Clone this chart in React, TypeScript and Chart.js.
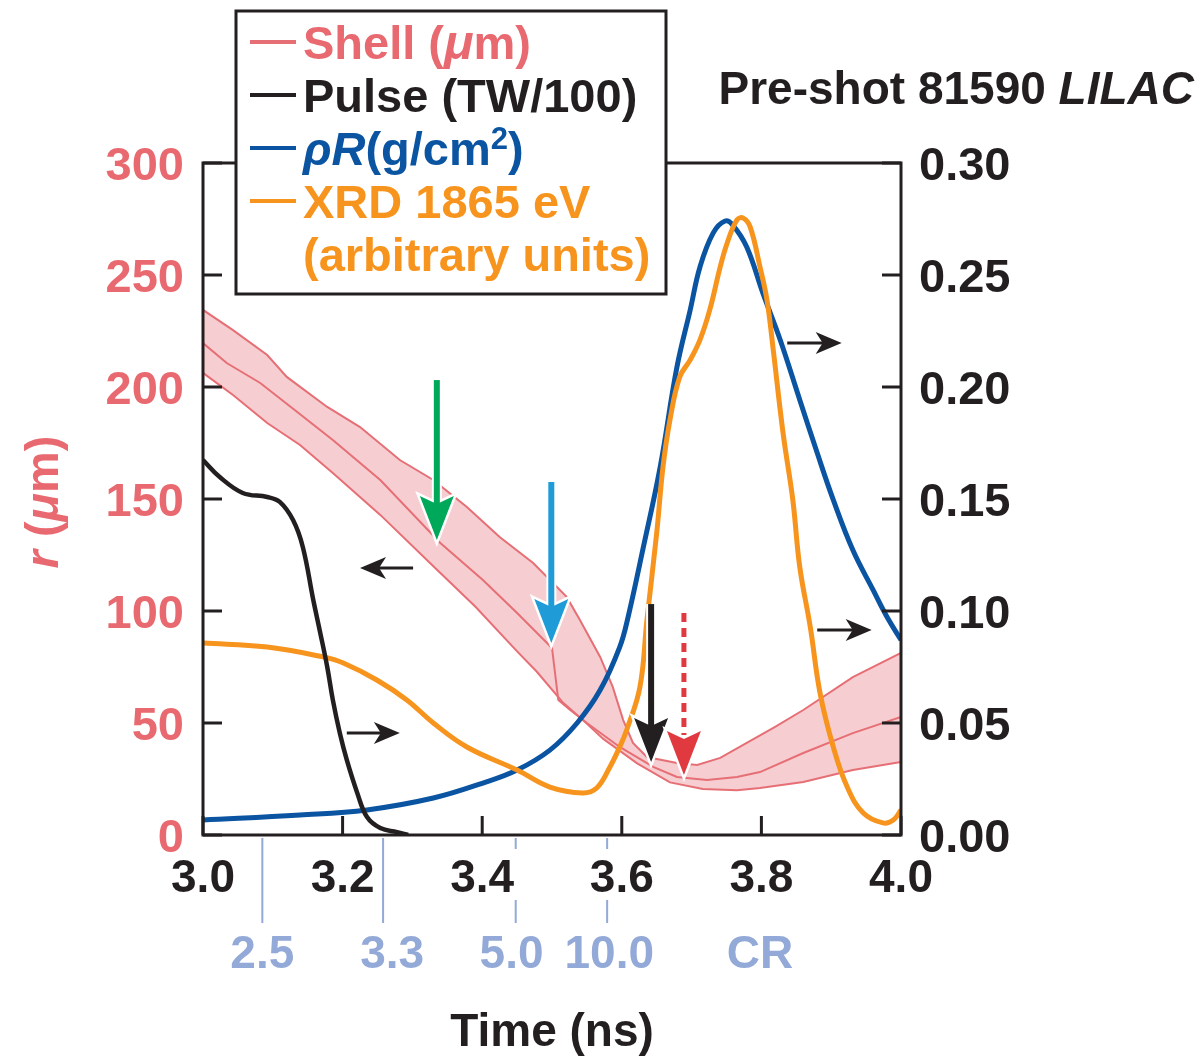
import { useEffect, useRef } from 'react';
import { Chart, registerables } from 'chart.js';
Chart.register(...registerables);

// ---------- data ----------
const shellUpperT = [3.0, 3.043, 3.092, 3.12, 3.178, 3.225, 3.282, 3.33, 3.378, 3.425, 3.473, 3.521, 3.54, 3.569, 3.587, 3.602, 3.616, 3.636, 3.679, 3.708, 3.741, 3.779, 3.819, 3.86, 3.931, 4.0];
const shellUpperR = [234.4, 225.4, 214.3, 204.5, 191.1, 182.1, 167.4, 158.5, 146.4, 133.0, 121.4, 106.3, 96.0, 79.5, 66.1, 51.3, 41.1, 34.8, 32.1, 31.3, 34.4, 41.1, 48.2, 55.8, 70.5, 81.3];

const shellMidT = [3.0, 3.034, 3.082, 3.135, 3.186, 3.254, 3.34, 3.401, 3.45, 3.5, 3.509, 3.526, 3.55, 3.597, 3.645, 3.679, 3.722, 3.765, 3.798, 3.86, 3.931, 4.0];
const shellMidR = [219.6, 210.7, 201.8, 188.8, 176.3, 158.5, 130.4, 113.8, 99.1, 83.5, 60.3, 55.8, 50.0, 39.3, 30.4, 25.9, 24.6, 25.9, 28.1, 36.6, 45.5, 52.7];

const shellLowT = [3.0, 3.043, 3.092, 3.139, 3.186, 3.254, 3.33, 3.39, 3.45, 3.478, 3.516, 3.549, 3.573, 3.622, 3.669, 3.716, 3.765, 3.798, 3.86, 3.931, 4.0];
const shellLowR = [206.3, 196.4, 183.9, 174.1, 161.6, 142.9, 120.0, 102.0, 82.0, 73.0, 59.0, 50.0, 43.0, 32.0, 23.5, 20.5, 20.0, 21.0, 23.7, 29.0, 32.6];

const pulseT = [3.0, 3.024, 3.057, 3.092, 3.11, 3.129, 3.143, 3.158, 3.168, 3.178, 3.186, 3.196, 3.206, 3.221, 3.235, 3.254, 3.278, 3.294];
const pulseV = [0.1674, 0.1598, 0.1527, 0.1509, 0.1487, 0.1406, 0.1286, 0.1049, 0.0902, 0.075, 0.0603, 0.0455, 0.0335, 0.0188, 0.008, 0.0031, 0.0013, 0.0];

const rhoRT = [3.0, 3.139, 3.235, 3.33, 3.401, 3.45, 3.497, 3.536, 3.569, 3.597, 3.609, 3.63, 3.655, 3.679, 3.698, 3.712, 3.731, 3.748, 3.759, 3.779, 3.802, 3.827, 3.855, 3.88, 3.903, 3.931, 3.96, 3.98, 4.0];
const rhoRV = [0.0067, 0.0089, 0.0112, 0.0165, 0.0232, 0.029, 0.0379, 0.05, 0.0647, 0.0839, 0.0973, 0.1272, 0.1643, 0.2089, 0.2344, 0.2536, 0.2688, 0.2741, 0.2723, 0.2625, 0.242, 0.221, 0.1942, 0.1705, 0.1496, 0.1272, 0.1094, 0.0973, 0.0871];

const xrdT = [3.0, 3.092, 3.172, 3.201, 3.249, 3.292, 3.33, 3.378, 3.45, 3.497, 3.544, 3.564, 3.583, 3.597, 3.607, 3.626, 3.636, 3.65, 3.659, 3.669, 3.683, 3.698, 3.712, 3.726, 3.741, 3.751, 3.765, 3.774, 3.784, 3.798, 3.808, 3.817, 3.831, 3.845, 3.855, 3.87, 3.884, 3.903, 3.923, 3.946, 3.974, 3.989, 4.0];
const xrdV = [0.0857, 0.0839, 0.0795, 0.0768, 0.0692, 0.0603, 0.05, 0.0393, 0.029, 0.0214, 0.0188, 0.021, 0.0304, 0.0393, 0.0469, 0.0661, 0.096, 0.1348, 0.1643, 0.1853, 0.2045, 0.2121, 0.221, 0.2344, 0.2536, 0.2643, 0.2746, 0.2754, 0.2714, 0.2536, 0.2388, 0.2165, 0.1795, 0.1496, 0.1196, 0.0929, 0.0634, 0.0393, 0.0214, 0.0098, 0.0054, 0.0067, 0.0112];

const xTicks = [3.0, 3.2, 3.4, 3.6, 3.8, 4.0];
const xTickLabels = ['3.0', '3.2', '3.4', '3.6', '3.8', '4.0'];
const leftTicks = [0, 50, 100, 150, 200, 250, 300];
const leftTickLabels = ['0', '50', '100', '150', '200', '250', '300'];
const rightTicks = [0, 0.05, 0.1, 0.15, 0.2, 0.25, 0.3];
const rightTickLabels = ['0.00', '0.05', '0.10', '0.15', '0.20', '0.25', '0.30'];

// secondary time markers (laser-intensity labels under axis)
const secLabels = ['2.5', '3.3', '5.0', '10.0', 'CR'];
const secLineTimes = [3.085, 3.258, 3.448, 3.579, 3.801];
const secLabelTimes = [3.085, 3.271, 3.442, 3.582, 3.798];
const secLineKind = ['solid', 'solid', 'split', 'split', 'none'];

// big vertical arrows: time, top (r, µm), tip (r, µm)
const bigArrowT = [3.335, 3.499, 3.642, 3.689];
const bigArrowTop = [203.1, 157.6, 103.1, 99.1];
const bigArrowTip = [131.7, 85.7, 32.6, 26.8];
const bigArrowColors = ['#00A859', '#1F9BD7', '#231F20', '#E03A40'];
const bigArrowDashed = [false, false, false, true];

// small horizontal axis-pointer arrows: tail time, tip time, r (µm)
const smallArrowTail = [3.301, 3.206, 3.837, 3.88];
const smallArrowTip = [3.225, 3.282, 3.915, 3.958];
const smallArrowR = [119.2, 45.5, 219.6, 91.5];

// ---------- styles ----------
const PINK = '#E8696F';
const PINK_LINE = '#E66F76';
const BAND = '#F6CED1';
const BLUE = '#0A54A2';
const ORANGE = '#F7941D';
const BLACK = '#231F20';
const SEC = '#93A9D7';
const FONT = '"Liberation Sans", Arial, Helvetica, sans-serif';
const F = (size: number, italic = false, weight = 'bold') => `${italic ? 'italic ' : ''}${weight} ${size}px ${FONT}`;

type Run = { t: string; f: string; c: string; dy?: number };

function runsWidth(ctx: CanvasRenderingContext2D, runs: Run[]) {
  let w = 0;
  for (const r of runs) {
    ctx.font = r.f;
    w += ctx.measureText(r.t).width;
  }
  return w;
}

function drawRuns(ctx: CanvasRenderingContext2D, runs: Run[], x: number, y: number, align: 'left' | 'right' | 'center' = 'left') {
  const w = runsWidth(ctx, runs);
  let cx = align === 'left' ? x : align === 'right' ? x - w : x - w / 2;
  ctx.textAlign = 'left';
  ctx.textBaseline = 'alphabetic';
  for (const r of runs) {
    ctx.font = r.f;
    ctx.fillStyle = r.c;
    ctx.fillText(r.t, cx, y + (r.dy || 0));
    cx += ctx.measureText(r.t).width;
  }
}

function headPath(ctx: CanvasRenderingContext2D, tipX: number, tipY: number, dirX: number, dirY: number, len: number, half: number, notch: number) {
  const px = -dirY, py = dirX;
  const bx = tipX - dirX * len, by = tipY - dirY * len;
  ctx.beginPath();
  ctx.moveTo(tipX, tipY);
  ctx.lineTo(bx + px * half, by + py * half);
  ctx.lineTo(tipX - dirX * (len - notch), tipY - dirY * (len - notch));
  ctx.lineTo(bx - px * half, by - py * half);
  ctx.closePath();
}

const overlay = {
  id: 'overlay',
  afterDatasetsDraw(chart: any) {
    const ctx: CanvasRenderingContext2D = chart.ctx;
    const xs = chart.scales.x, ys = chart.scales.y, y1 = chart.scales.y1;
    const { left, right, top, bottom } = chart.chartArea;
    ctx.save();

    // big arrows
    for (let i = 0; i < bigArrowT.length; i++) {
      const px = xs.getPixelForValue(bigArrowT[i]);
      const yTop = ys.getPixelForValue(bigArrowTop[i]);
      const yTip = ys.getPixelForValue(bigArrowTip[i]);
      const len = 44, half = 17, notch = 8;
      const col = bigArrowColors[i];
      const shaftEnd = yTip - len + notch + 2;
      ctx.lineCap = 'butt';
      if (!bigArrowDashed[i]) {
        ctx.strokeStyle = '#fff';
        ctx.lineWidth = 10;
        ctx.beginPath();
        ctx.moveTo(px, yTop);
        ctx.lineTo(px, shaftEnd);
        ctx.stroke();
      }
      headPath(ctx, px, yTip, 0, 1, len, half, notch);
      ctx.strokeStyle = '#fff';
      ctx.lineWidth = 5;
      ctx.lineJoin = 'miter';
      ctx.stroke();
      ctx.strokeStyle = col;
      ctx.lineWidth = bigArrowDashed[i] ? 5 : 6;
      ctx.setLineDash(bigArrowDashed[i] ? [9, 6] : []);
      ctx.beginPath();
      ctx.moveTo(px, yTop);
      ctx.lineTo(px, bigArrowDashed[i] ? yTip - len + 4 : shaftEnd);
      ctx.stroke();
      ctx.setLineDash([]);
      headPath(ctx, px, yTip, 0, 1, len, half, notch);
      ctx.fillStyle = col;
      ctx.fill();
    }

    // small arrows
    for (let i = 0; i < smallArrowR.length; i++) {
      const x0 = xs.getPixelForValue(smallArrowTail[i]);
      const x1 = xs.getPixelForValue(smallArrowTip[i]);
      const yy = ys.getPixelForValue(smallArrowR[i]);
      const dir = x1 > x0 ? 1 : -1;
      ctx.strokeStyle = BLACK;
      ctx.lineWidth = 3;
      ctx.beginPath();
      ctx.moveTo(x0, yy);
      ctx.lineTo(x1 - dir * 14, yy);
      ctx.stroke();
      headPath(ctx, x1, yy, dir, 0, 26, 11, 7);
      ctx.fillStyle = BLACK;
      ctx.fill();
    }

    // frame
    ctx.strokeStyle = BLACK;
    ctx.lineWidth = 3;
    ctx.strokeRect(left, top, right - left, bottom - top);

    // ticks (inward)
    const TL = 19;
    ctx.lineWidth = 3;
    ctx.beginPath();
    for (const v of leftTicks) {
      const py = ys.getPixelForValue(v);
      ctx.moveTo(left, py);
      ctx.lineTo(left + TL, py);
    }
    for (const v of rightTicks) {
      const py = y1.getPixelForValue(v);
      ctx.moveTo(right, py);
      ctx.lineTo(right - TL, py);
    }
    for (const v of xTicks) {
      const px = xs.getPixelForValue(v);
      ctx.moveTo(px, bottom);
      ctx.lineTo(px, bottom - TL);
    }
    ctx.stroke();

    // tick labels
    ctx.textBaseline = 'alphabetic';
    ctx.font = F(47);
    ctx.fillStyle = PINK;
    ctx.textAlign = 'right';
    leftTicks.forEach((v, i) => ctx.fillText(leftTickLabels[i], left - 19, ys.getPixelForValue(v) + 17));
    ctx.fillStyle = BLACK;
    ctx.textAlign = 'left';
    rightTicks.forEach((v, i) => ctx.fillText(rightTickLabels[i], right + 18, y1.getPixelForValue(v) + 17));
    ctx.font = F(46);
    ctx.textAlign = 'center';
    xTicks.forEach((v, i) => ctx.fillText(xTickLabels[i], xs.getPixelForValue(v), bottom + 57));

    // secondary labels
    ctx.strokeStyle = SEC;
    ctx.lineWidth = 2;
    ctx.beginPath();
    secLineTimes.forEach((t, i) => {
      const px = xs.getPixelForValue(t);
      if (secLineKind[i] === 'solid') {
        ctx.moveTo(px, bottom + 3);
        ctx.lineTo(px, bottom + 88);
      } else if (secLineKind[i] === 'split') {
        ctx.moveTo(px, bottom + 3);
        ctx.lineTo(px, bottom + 14);
        ctx.moveTo(px, bottom + 65);
        ctx.lineTo(px, bottom + 88);
      }
    });
    ctx.stroke();
    ctx.fillStyle = SEC;
    ctx.font = F(46);
    ctx.textAlign = 'center';
    secLabelTimes.forEach((t, i) => ctx.fillText(secLabels[i], xs.getPixelForValue(t), bottom + 133));

    // axis titles
    ctx.fillStyle = BLACK;
    ctx.font = F(46);
    ctx.textAlign = 'center';
    ctx.fillText('Time (ns)', (left + right) / 2, bottom + 211);

    ctx.save();
    ctx.translate(58, 502);
    ctx.rotate(-Math.PI / 2);
    drawRuns(ctx, [
      { t: 'r', f: F(47, true), c: PINK },
      { t: ' (', f: F(47), c: PINK },
      { t: 'μ', f: F(47, true), c: PINK },
      { t: 'm)', f: F(47), c: PINK },
    ], 0, 0, 'center');
    ctx.restore();

    // title
    drawRuns(ctx, [
      { t: 'Pre-shot 81590 ', f: F(46), c: BLACK },
      { t: 'LILAC', f: F(46, true), c: BLACK },
    ], 1194, 104, 'right');

    // legend box
    const lx = 236, ly = 11, lw = 430, lh = 283;
    ctx.fillStyle = '#fff';
    ctx.fillRect(lx, ly, lw, lh);
    ctx.strokeStyle = BLACK;
    ctx.lineWidth = 3;
    ctx.strokeRect(lx, ly, lw, lh);
    const LF = 47;
    const legendItems: { c: string; y: number; runs: Run[] }[] = [
      { c: PINK_LINE, y: 59, runs: [
        { t: 'Shell (', f: F(LF), c: PINK },
        { t: 'μ', f: F(LF + 2, true), c: PINK },
        { t: 'm)', f: F(LF), c: PINK },
      ] },
      { c: BLACK, y: 112, runs: [
        { t: 'Pulse (TW/100)', f: F(LF), c: BLACK },
      ] },
      { c: BLUE, y: 165, runs: [
        { t: 'ρR', f: F(LF, true), c: BLUE },
        { t: '(g/cm', f: F(LF), c: BLUE },
        { t: '2', f: F(31), c: BLUE, dy: -16 },
        { t: ')', f: F(LF), c: BLUE },
      ] },
      { c: ORANGE, y: 218, runs: [{ t: 'XRD 1865 eV', f: F(LF), c: ORANGE }] },
    ];
    for (const it of legendItems) {
      ctx.strokeStyle = it.c;
      ctx.lineWidth = 4;
      ctx.beginPath();
      ctx.moveTo(250, it.y - 17);
      ctx.lineTo(296, it.y - 17);
      ctx.stroke();
      drawRuns(ctx, it.runs, 303, it.y);
    }
    drawRuns(ctx, [{ t: '(arbitrary units)', f: F(LF), c: ORANGE }], 303, 271);

    ctx.restore();
  },
};

const pts = (t: number[], v: number[]) => t.map((x, i) => ({ x, y: v[i] }));

export default function App() {
  const ref = useRef<HTMLCanvasElement>(null);
  useEffect(() => {
    document.body.style.margin = '0';
    const chart = new Chart(ref.current as HTMLCanvasElement, {
      type: 'line',
      data: {
        datasets: [
          { label: 'Shell upper', data: pts(shellUpperT, shellUpperR), yAxisID: 'y', borderColor: PINK_LINE, borderWidth: 2, tension: 0, fill: false, order: 5 },
          { label: 'Shell', data: pts(shellMidT, shellMidR), yAxisID: 'y', borderColor: PINK_LINE, borderWidth: 2, tension: 0, fill: false, order: 5 },
          { label: 'Shell lower', data: pts(shellLowT, shellLowR), yAxisID: 'y', borderColor: PINK_LINE, borderWidth: 2, tension: 0, fill: 0, backgroundColor: BAND, order: 5 },
          { label: 'Pulse', data: pts(pulseT, pulseV), yAxisID: 'y1', borderColor: BLACK, borderWidth: 4.5, tension: 0.4, fill: false, order: 1 },
          { label: 'ρR', data: pts(rhoRT, rhoRV), yAxisID: 'y1', borderColor: BLUE, borderWidth: 5, tension: 0.4, fill: false, order: 2 },
          { label: 'XRD', data: pts(xrdT, xrdV), yAxisID: 'y1', borderColor: ORANGE, borderWidth: 5, tension: 0.4, fill: false, order: 1 },
        ],
      } as any,
      options: {
        responsive: false,
        animation: false,
        devicePixelRatio: 1,
        layout: { padding: { left: 203, right: 301, top: 163, bottom: 221 } },
        elements: { point: { radius: 0, hoverRadius: 0 } },
        scales: {
          x: { type: 'linear', min: 3, max: 4, display: false },
          y: { type: 'linear', min: 0, max: 300, display: false },
          y1: { type: 'linear', min: 0, max: 0.3, display: false, position: 'right' },
        },
        plugins: {
          legend: { display: false },
          tooltip: { enabled: false },
          filler: { drawTime: 'beforeDatasetsDraw' },
        } as any,
        events: [],
      },
      plugins: [overlay],
    });
    return () => chart.destroy();
  }, []);
  return (
    <div style={{ position: 'absolute', left: 0, top: 0, width: 1202, height: 1056, background: '#fff' }}>
      <canvas ref={ref} width={1202} height={1056} style={{ display: 'block' }} />
    </div>
  );
}
